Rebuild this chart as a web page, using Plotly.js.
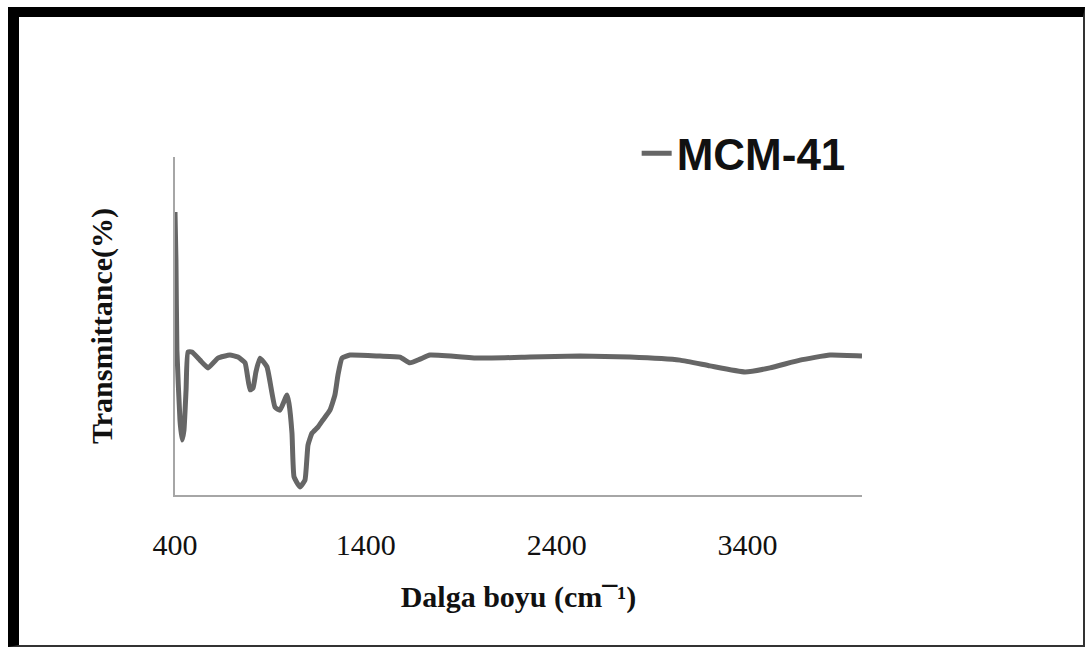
<!DOCTYPE html>
<html>
<head>
<meta charset="utf-8">
<script src="https://cdn.plot.ly/plotly-3.0.1.min.js"></script>
<style>
  html, body { margin: 0; padding: 0; background: #ffffff; }
  #wrap { position: relative; width: 1085px; height: 649px; overflow: hidden; }
  #chart { position: absolute; left: 0; top: 0; width: 1085px; height: 649px; }
  #frame {
    position: absolute; left: 8px; top: 7px; width: 1064px; height: 628px;
    border-left: 11px solid #000; border-top: 10px solid #000;
    border-right: 2px solid #333; border-bottom: 2px solid #333;
    pointer-events: none;
  }
</style>
</head>
<body>
<div id="wrap">
  <div id="chart"></div>
  <div id="frame"></div>
</div>
<script>
// FTIR spectrum of MCM-41: wavenumber (cm-1) vs. relative transmittance
const wavenumber = [400, 405, 410, 426, 437, 447, 458, 468, 489, 531, 573, 625, 688, 730,
  767, 793, 809, 824, 845, 882, 924, 950, 987, 997, 1013, 1024, 1055, 1081, 1097, 1118,
  1149, 1175, 1212, 1238, 1254, 1275, 1317, 1474, 1579, 1631, 1684, 1736, 1998, 2260,
  2522, 2784, 3046, 3203, 3387, 3518, 3675, 3832, 4000];
const transmittance = [83.7, 69.5, 42.9, 22.2, 16.3, 19.2, 31.1, 42.3, 42.3, 39.9, 37.6,
  40.5, 41.4, 40.8, 39.1, 31.1, 31.7, 36.4, 40.5, 37.9, 26.0, 25.1, 29.6, 27.2, 18.3, 5.3,
  2.4, 4.4, 14.8, 18.3, 20.1, 22.2, 25.1, 29.6, 35.5, 40.5, 41.4, 41.1, 40.8, 39.1, 40.2,
  41.4, 40.5, 40.8, 41.1, 40.8, 39.9, 38.2, 36.4, 37.6, 39.9, 41.4, 41.1];
const tickValues = [400, 1400, 2400, 3400];
const tickLabels = ['400', '1400', '2400', '3400'];
const seriesName = 'MCM-41';

const serif = '"Liberation Serif", "Times New Roman", serif';

const trace = {
  x: wavenumber,
  y: transmittance,
  type: 'scatter',
  mode: 'lines',
  name: seriesName,
  line: { color: '#666666', width: 5, shape: 'spline', smoothing: 0.4 },
  hoverinfo: 'x+y'
};

const layout = {
  width: 1085,
  height: 649,
  margin: { l: 175, r: 223, t: 157, b: 154 },
  paper_bgcolor: '#ffffff',
  plot_bgcolor: '#ffffff',
  showlegend: true,
  legend: {
    x: 0.672, xanchor: 'left',
    y: 1.01, yanchor: 'middle',
    bgcolor: 'rgba(0,0,0,0)',
    font: { family: '"Liberation Sans", Arial, sans-serif', size: 44, color: '#111111', weight: 'bold' }
  },
  xaxis: {
    range: [400, 4000],
    tickvals: tickValues,
    ticktext: tickLabels,
    ticks: 'outside',
    ticklen: 22,
    tickcolor: 'rgba(0,0,0,0)',
    showgrid: false,
    zeroline: false,
    showline: true,
    linecolor: '#a6a6a6',
    linewidth: 2,
    tickfont: { family: serif, size: 30, color: '#111111' },
    title: {
      text: 'Dalga boyu (cm¯¹)',
      font: { family: serif, size: 30, color: '#111111', weight: 'bold' },
      standoff: 26
    }
  },
  yaxis: {
    range: [0, 100],
    showticklabels: false,
    ticks: '',
    showgrid: false,
    zeroline: false,
    showline: true,
    linecolor: '#a6a6a6',
    linewidth: 2,
    title: {
      text: 'Transmittance(%)',
      font: { family: serif, size: 30, color: '#111111', weight: 'bold' },
      standoff: 52
    }
  }
};

Plotly.newPlot('chart', [trace], layout, { displayModeBar: false, staticPlot: true });
</script>
</body>
</html>
